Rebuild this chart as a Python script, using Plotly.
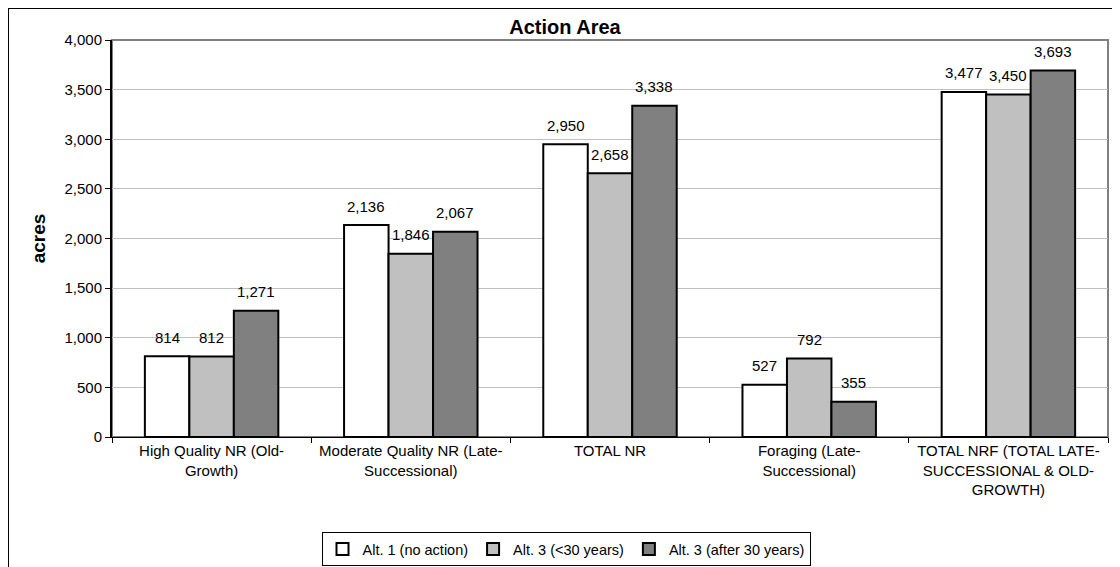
import plotly.graph_objects as go

categories = [
    "High Quality NR (Old-<br>Growth)",
    "Moderate Quality NR (Late-<br>Successional)",
    "TOTAL NR",
    "Foraging (Late-<br>Successional)",
    "TOTAL NRF (TOTAL LATE-<br>SUCCESSIONAL & OLD-<br>GROWTH)",
]
series_names = ["Alt. 1 (no action)", "Alt. 3 (<30 years)", "Alt. 3 (after 30 years)"]
alt1 = [814, 2136, 2950, 527, 3477]
alt3_early = [812, 1846, 2658, 792, 3450]
alt3_late = [1271, 2067, 3338, 355, 3693]
colors = ["#FFFFFF", "#C0C0C0", "#808080"]

font_family = "Liberation Sans, Arial, sans-serif"

# page body has an 8px margin; figure coordinates are offset accordingly
W, H = 1112, 559
L, T = 104, 32
plot_right, plot_bottom = 1100, 429
R, B = W - plot_right, H - plot_bottom
pw, ph = W - L - R, H - T - B
bargap = 0.33
bar_px = pw / len(categories) * (1 - bargap) / 3

fig = go.Figure()
annotations = []
all_series = [alt1, alt3_early, alt3_late]
for i, (name, vals, col) in enumerate(zip(series_names, all_series, colors)):
    fig.add_trace(go.Bar(
        x=categories, y=vals, name=name,
        marker=dict(color=col, line=dict(color="#000000", width=2)),
        cliponaxis=False,
    ))
    for cat, v in zip(categories, vals):
        annotations.append(dict(
            x=cat, y=v, xref="x", yref="y", text=f"{v:,}", showarrow=False,
            xshift=(i - 1) * bar_px, yshift=19, yanchor="middle", xanchor="center",
            font=dict(size=15, color="#000000", family=font_family),
        ))

fig.update_layout(
    width=W, height=H,
    margin=dict(l=L, r=R, t=T, b=B, autoexpand=False),
    paper_bgcolor="#FFFFFF", plot_bgcolor="#FFFFFF",
    font=dict(family=font_family, size=15, color="#000000"),
    barmode="group", bargap=bargap, bargroupgap=0,
    title=dict(text="<b>Action Area</b>", x=557 / W, xanchor="center", y=1 - 19 / H, yanchor="middle",
               font=dict(size=20, family=font_family)),
    showlegend=True,
    legend=dict(orientation="h", x=(558 - L) / pw, xanchor="center", y=(plot_bottom - 524) / ph,
                yanchor="top", bordercolor="#000000", borderwidth=1, font=dict(size=14.5),
                itemwidth=30, traceorder="normal", tracegroupgap=0),
    xaxis=dict(showline=True, linecolor="#000000", linewidth=1, ticks="outside", tickson="boundaries",
               ticklen=5, tickcolor="#000000", tickfont=dict(size=15), showgrid=False, automargin=False),
    yaxis=dict(range=[0, 4000], dtick=500, tickformat=",", showline=True, linecolor="#000000",
               linewidth=2, ticks="outside", ticklen=5, tickcolor="#000000", tickfont=dict(size=15),
               showgrid=True, gridcolor="#C0C0C0", gridwidth=1, zeroline=False, automargin=False,
               title=dict(text="<b>acres</b>", font=dict(size=19), standoff=14)),
    annotations=annotations,
    shapes=[
        dict(type="rect", xref="paper", yref="paper", x0=0, x1=1, y0=0, y1=1,
             line=dict(color="#808080", width=2), layer="below"),
        dict(type="rect", xref="paper", yref="paper", x0=(0 - L) / pw, x1=(W + 20 - L) / pw,
             y0=(plot_bottom - (H + 20)) / ph, y1=(plot_bottom - 0) / ph,
             line=dict(color="#000000", width=2)),
    ],
)

fig.write_html("out.html")
